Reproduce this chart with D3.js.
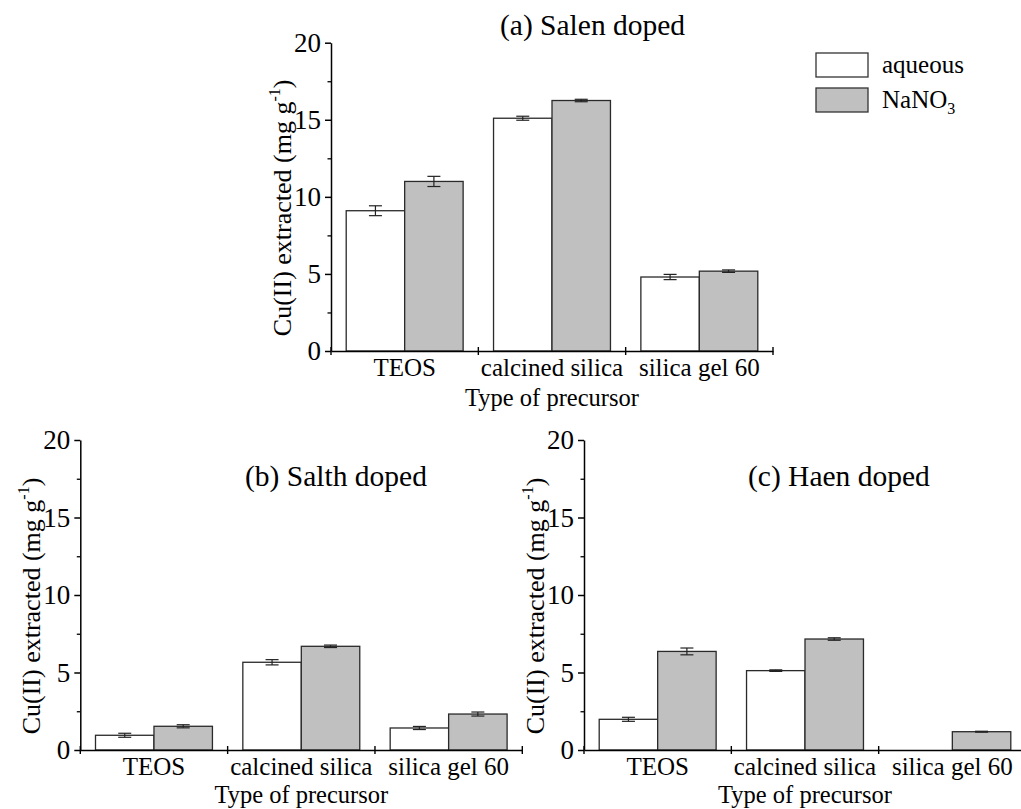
<!DOCTYPE html>
<html><head><meta charset="utf-8">
<script src="https://cdn.jsdelivr.net/npm/d3@7"></script>
<style>
body{margin:0;background:#fff}
text{font-family:"Liberation Serif","Times New Roman",Times,"DejaVu Serif",serif;fill:#000}
</style>
</head><body><svg id="chart" width="1021" height="809"></svg>
<script>
// ---------- data ----------
const categories = ["TEOS", "calcined silica", "silica gel 60"];
const seriesNames = ["aqueous", "NaNO3"];
const yTicks = [0, 5, 10, 15, 20];
const yMinorTicks = [2.5, 7.5, 12.5, 17.5];
const panelTitles = ["(a) Salen doped", "(b) Salth doped", "(c) Haen doped"];
const xTitle = "Type of precursor";

const salenAqueous = [9.1, 15.1, 4.8];
const salenAqueousErr = [0.32, 0.13, 0.17];
const salenNaNO3 = [11.0, 16.25, 5.18];
const salenNaNO3Err = [0.33, 0.08, 0.08];

const salthAqueous = [0.95, 5.66, 1.42];
const salthAqueousErr = [0.13, 0.17, 0.1];
const salthNaNO3 = [1.53, 6.69, 2.32];
const salthNaNO3Err = [0.1, 0.08, 0.13];

const haenAqueous = [1.98, 5.12, null];
const haenAqueousErr = [0.13, 0.05, null];
const haenNaNO3 = [6.36, 7.16, 1.18];
const haenNaNO3Err = [0.22, 0.08, 0.03];

// ---------- layout ----------
const fills = ["#ffffff", "#c0c0c0"];
const svg = d3.select("#chart");

const panels = [
  {x0: 331, x1: 773, yTop: 42.7, yBot: 351, title: panelTitles[0], tx: 500, ty: 35, xtOff: 55,
   series: [[salenAqueous, salenAqueousErr], [salenNaNO3, salenNaNO3Err]]},
  {x0: 80.3, x1: 522.3, yTop: 440, yBot: 750, title: panelTitles[1], tx: 245, ty: 486, xtOff: 53,
   series: [[salthAqueous, salthAqueousErr], [salthNaNO3, salthNaNO3Err]]},
  {x0: 584, x1: 1026, yTop: 440, yBot: 750, title: panelTitles[2], tx: 748, ty: 486, xtOff: 53,
   series: [[haenAqueous, haenAqueousErr], [haenNaNO3, haenNaNO3Err]]}
];

panels.forEach(p => {
  const g = svg.append("g");
  const x = d3.scaleBand().domain(categories).range([p.x0, p.x1]);
  const xs = d3.scaleBand().domain(seriesNames).range([0, x.bandwidth()]).paddingInner(0).paddingOuter(0.26);
  const y = d3.scaleLinear().domain([0, 20]).range([p.yBot, p.yTop]);

  // bars
  p.series.forEach((s, si) => {
    const [vals] = s;
    categories.forEach((c, ci) => {
      const v = vals[ci];
      if (v == null) return;
      g.append("rect")
        .attr("x", x(c) + xs(seriesNames[si]))
        .attr("y", y(v))
        .attr("width", xs.bandwidth())
        .attr("height", y(0) - y(v))
        .attr("fill", fills[si])
        .attr("stroke", "#2a2a2a")
        .attr("stroke-width", 1.3);
    });
  });
  // error bars
  p.series.forEach((s, si) => {
    const [vals, errs] = s;
    categories.forEach((c, ci) => {
      const v = vals[ci], e = errs[ci];
      if (v == null || e == null) return;
      const cx = x(c) + xs(seriesNames[si]) + xs.bandwidth() / 2;
      const eg = g.append("g").attr("stroke", "#222").attr("stroke-width", 1.2);
      eg.append("line").attr("x1", cx).attr("x2", cx).attr("y1", y(v - e)).attr("y2", y(v + e));
      [v - e, v + e].forEach(t => {
        eg.append("line").attr("x1", cx - 6.5).attr("x2", cx + 6.5).attr("y1", y(t)).attr("y2", y(t));
      });
    });
  });

  // y axis
  const ya = g.append("g").attr("transform", `translate(${p.x0},0)`)
    .call(d3.axisLeft(y).tickValues(yTicks).tickSize(6).tickSizeOuter(0).tickPadding(4));
  ya.attr("font-family", null);
  ya.select(".domain").attr("stroke", "#000").attr("stroke-width", 1.5);
  ya.selectAll(".tick line").attr("stroke-width", 1.5);
  ya.selectAll(".tick text").attr("font-size", 27).attr("fill", "#000");
  const ym = g.append("g").attr("transform", `translate(${p.x0},0)`)
    .call(d3.axisLeft(y).tickValues(yMinorTicks).tickSize(3.5).tickFormat(""));
  ym.select(".domain").remove();
  ym.selectAll(".tick line").attr("stroke-width", 1.3);

  // x axis
  const xa = g.append("g").attr("transform", `translate(0,${p.yBot})`)
    .call(d3.axisBottom(x).tickSize(0).tickSizeOuter(0).tickPadding(7.5));
  xa.attr("font-family", null);
  xa.select(".domain").attr("stroke", "#000").attr("stroke-width", 1.5);
  xa.selectAll(".tick text").attr("font-size", 25).attr("fill", "#000");
  const bounds = categories.map(c => x(c)).concat([x.range()[1]]);
  g.selectAll(null).data(bounds).enter().append("line")
    .attr("x1", d => d).attr("x2", d => d)
    .attr("y1", p.yBot - 4).attr("y2", p.yBot + 4)
    .attr("stroke", "#000").attr("stroke-width", 1.4);

  // x title
  g.append("text").attr("x", (p.x0 + p.x1) / 2).attr("y", p.yBot + p.xtOff)
    .attr("text-anchor", "middle").attr("font-size", 24.5).text(xTitle);

  // y title
  const yt = g.append("text")
    .attr("transform", `translate(${p.x0 - 40},${(p.yTop + p.yBot) / 2 + 11}) rotate(-90)`)
    .attr("text-anchor", "middle").attr("font-size", 26);
  yt.append("tspan").text("Cu(II) extracted (mg g");
  yt.append("tspan").attr("font-size", 16).attr("dy", -11).text("-1");
  yt.append("tspan").attr("dy", 11).text(")");

  // panel title
  g.append("text").attr("x", p.tx).attr("y", p.ty).attr("font-size", 29.5).text(p.title);
});

// legend
const legend = svg.append("g");
seriesNames.forEach((s, i) => {
  const ly = 53 + i * 35;
  legend.append("rect").attr("x", 816).attr("y", ly).attr("width", 52).attr("height", 24)
    .attr("fill", fills[i]).attr("stroke", "#333").attr("stroke-width", 1.3);
  const t = legend.append("text").attr("x", 882).attr("y", ly + 20).attr("font-size", 25);
  if (s === "NaNO3") {
    t.append("tspan").text("NaNO");
    t.append("tspan").attr("font-size", 16).attr("dy", 6).text("3");
  } else {
    t.text(s);
  }
});
</script>
</body></html>
